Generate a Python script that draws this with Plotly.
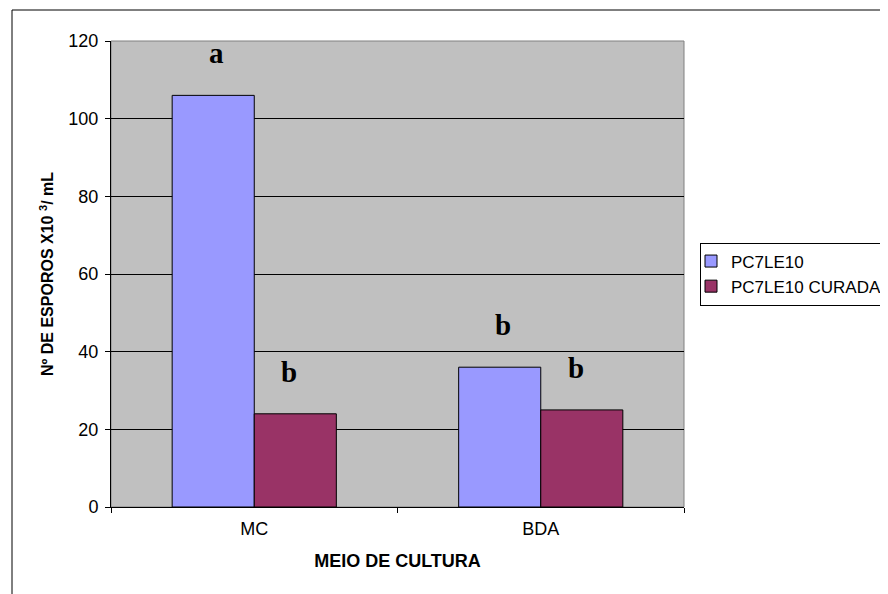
import plotly.graph_objects as go

categories = ["MC", "BDA"]
series_names = ["PC7LE10", "PC7LE10 CURADA"]
pc7le10 = [106, 36]
pc7le10_curada = [24, 25]
letters_pc7le10 = ["a", "b"]
letters_curada = ["b", "b"]
y_tick_vals = [0, 20, 40, 60, 80, 100, 120]

colors = ["#9999FF", "#993366"]

fig = go.Figure()
for name, vals, col in zip(series_names, [pc7le10, pc7le10_curada], colors):
    fig.add_trace(go.Bar(
        x=categories, y=vals, name=name,
        marker=dict(color=col, line=dict(color="black", width=1)),
    ))

letter_font = dict(family="Liberation Serif, Times New Roman, serif", size=29, color="black")
for cat, v, l in zip(categories, pc7le10, letters_pc7le10):
    fig.add_annotation(x=cat, y=v, text="<b>%s</b>" % l, showarrow=False,
                       xshift=-38, yshift=24, yanchor="bottom", font=letter_font)
for cat, v, l in zip(categories, pc7le10_curada, letters_curada):
    fig.add_annotation(x=cat, y=v, text="<b>%s</b>" % l, showarrow=False,
                       xshift=35, yshift=24, yanchor="bottom", font=letter_font)

# plot area border (gray) and outer chart frame
fig.add_shape(type="rect", xref="paper", yref="paper", x0=0, x1=1, y0=0, y1=1,
              line=dict(color="#808080", width=1), layer="below")
fig.add_shape(type="rect", xref="paper", yref="paper",
              x0=(4 - 103) / 573, x1=2, y0=-1, y1=(499 - 2) / 466,
              line=dict(color="black", width=1), layer="below")

fig.update_layout(
    width=880, height=586,
    margin=dict(l=103, r=204, t=33, b=87, autoexpand=False),
    paper_bgcolor="white", plot_bgcolor="#C0C0C0",
    barmode="group", bargap=0.427, bargroupgap=0,
    font=dict(family="Arial, Liberation Sans", size=18, color="black"),
    showlegend=True,
    legend=dict(x=(692 - 103) / 573, y=0.5, xanchor="left", yanchor="middle",
                bordercolor="black", borderwidth=1, bgcolor="white",
                font=dict(size=17), tracegroupgap=0, indentation=-10),
    xaxis=dict(
        title=dict(text="<b>MEIO DE CULTURA</b>", font=dict(size=18), standoff=16),
        showline=True, linecolor="black", linewidth=1,
        ticks="outside", ticklen=5, tickcolor="black", tickson="boundaries",
        showgrid=False, tickfont=dict(size=18), ticklabelstandoff=5,
    ),
    yaxis=dict(
        title=dict(text="<b>Nº DE ESPOROS X10 <sup>3</sup>/ mL</b>", font=dict(size=16), standoff=10),
        range=[0, 120], tickvals=y_tick_vals,
        showline=True, linecolor="black", linewidth=1,
        ticks="outside", ticklen=5, tickcolor="black",
        showgrid=True, gridcolor="black", gridwidth=1,
        zeroline=False, tickfont=dict(size=18), ticklabelstandoff=3,
    ),
)

fig.write_html("out.html")
